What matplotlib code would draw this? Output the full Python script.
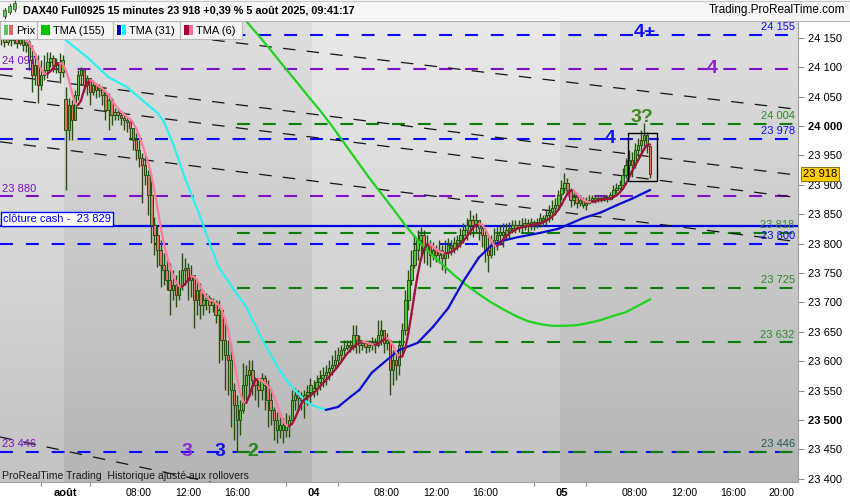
import numpy as np
import pandas as pd
import matplotlib
matplotlib.use("Agg")
import matplotlib.pyplot as plt
from matplotlib.collections import LineCollection
from matplotlib.patches import Rectangle
import matplotlib.transforms as mtransforms

plt.rcParams['font.family'] = ['Liberation Sans', 'DejaVu Sans']

# ---------------- data (15-minute bars, index 0 = 31 Jul ~16:45) ----------------
closes = [24150, 24142, 24155, 24146, 24152, 24141, 24150, 24138, 24143, 24112,
          24086, 24103, 24069, 24086, 24095, 24109, 24115, 24103, 24109, 24092,
          24112, 23993, 24035, 24010, 24052, 24086, 24095, 24069, 24081, 24058,
          24069, 24061, 24064, 24052, 24027, 24044, 24018, 24024, 24018, 24013,
          24010, 24007, 23996, 23976, 23959, 23945, 23933, 23916, 23882, 23831,
          23814, 23789, 23763, 23755, 23738, 23721, 23729, 23712, 23729, 23755,
          23758, 23738, 23746, 23704, 23721, 23695, 23704, 23707, 23695, 23700,
          23678, 23687, 23636, 23610, 23602, 23551, 23525, 23500, 23517, 23559,
          23576, 23585, 23568, 23559, 23551, 23571, 23559, 23534, 23517, 23500,
          23483, 23491, 23483, 23491, 23500, 23534, 23542, 23537, 23534, 23542,
          23547, 23559, 23554, 23565, 23571, 23576, 23581, 23588, 23593, 23602,
          23610, 23619, 23622, 23627, 23624, 23644, 23636, 23627, 23631, 23624,
          23627, 23632, 23627, 23644, 23653, 23631, 23636, 23585, 23602, 23593,
          23627, 23653, 23704, 23738, 23763, 23789, 23806, 23814, 23789, 23797,
          23780, 23789, 23780, 23789, 23775, 23785, 23797, 23792, 23801, 23806,
          23814, 23823, 23831, 23840, 23831, 23840, 23826, 23814, 23789, 23780,
          23797, 23806, 23814, 23819, 23814, 23823, 23826, 23831, 23826, 23831,
          23828, 23835, 23831, 23836, 23831, 23836, 23843, 23840, 23848, 23853,
          23860, 23865, 23882, 23894, 23903, 23891, 23874, 23879, 23869, 23874,
          23865, 23869, 23874, 23877, 23874, 23877, 23874, 23879, 23876, 23882,
          23891, 23894, 23899, 23916, 23933, 23942, 23933, 23959, 23967, 23976,
          23984, 23965, 23918]
highs = [24172, 24160, 24166, 24162, 24168, 24158, 24165, 24155, 24156, 24146,
         24137, 24124, 24120, 24112, 24120, 24126, 24126, 24120, 24115, 24124,
         24120, 24066, 24047, 24044, 24061, 24095, 24100, 24092, 24086, 24081,
         24078, 24073, 24071, 24068, 24058, 24056, 24047, 24030, 24030, 24027,
         24024, 24015, 24013, 23993, 23988, 23976, 23954, 23950, 23925, 23908,
         23845, 23831, 23806, 23784, 23775, 23767, 23755, 23746, 23755, 23784,
         23775, 23767, 23763, 23743, 23738, 23733, 23721, 23716, 23712, 23707,
         23704, 23704, 23682, 23672, 23636, 23627, 23563, 23542, 23534, 23597,
         23593, 23602, 23602, 23573, 23568, 23580, 23576, 23568, 23551, 23522,
         23513, 23512, 23503, 23512, 23508, 23551, 23554, 23551, 23547, 23551,
         23559, 23571, 23568, 23576, 23585, 23590, 23593, 23602, 23610, 23619,
         23624, 23627, 23636, 23636, 23636, 23661, 23661, 23644, 23636, 23636,
         23636, 23641, 23639, 23670, 23670, 23653, 23648, 23636, 23619, 23615,
         23636, 23665, 23721, 23755, 23789, 23814, 23823, 23828, 23823, 23814,
         23806, 23802, 23797, 23806, 23797, 23806, 23809, 23806, 23811, 23814,
         23826, 23835, 23843, 23857, 23848, 23852, 23840, 23831, 23823, 23814,
         23814, 23826, 23828, 23831, 23835, 23835, 23836, 23840, 23840, 23840,
         23843, 23843, 23842, 23843, 23840, 23843, 23852, 23848, 23857, 23865,
         23874, 23877, 23891, 23908, 23920, 23911, 23894, 23887, 23882, 23882,
         23879, 23879, 23882, 23882, 23881, 23882, 23881, 23882, 23882, 23887,
         23899, 23903, 23908, 23928, 23945, 23959, 23955, 23971, 23979, 23993,
         24005, 23990, 23965]
lows = [24138, 24135, 24137, 24136, 24140, 24132, 24138, 24128, 24125, 24095,
        24058, 24069, 24039, 24061, 24078, 24081, 24100, 24092, 24090, 24073,
        24083, 23891, 23976, 23976, 24010, 24044, 24069, 24058, 24052, 24035,
        24052, 24047, 24049, 24035, 24010, 23993, 24001, 24010, 24010, 24001,
        23993, 23990, 23976, 23959, 23942, 23930, 23869, 23899, 23848, 23801,
        23780, 23760, 23726, 23729, 23721, 23678, 23704, 23692, 23704, 23721,
        23729, 23704, 23709, 23656, 23678, 23672, 23678, 23687, 23682, 23683,
        23665, 23597, 23602, 23551, 23542, 23488, 23466, 23446, 23474, 23512,
        23534, 23539, 23542, 23534, 23522, 23534, 23517, 23488, 23491, 23466,
        23461, 23469, 23461, 23471, 23471, 23500, 23517, 23517, 23517, 23503,
        23525, 23529, 23539, 23542, 23551, 23556, 23559, 23568, 23576, 23585,
        23593, 23602, 23610, 23619, 23615, 23619, 23614, 23614, 23619, 23614,
        23615, 23619, 23614, 23624, 23627, 23614, 23619, 23542, 23559, 23568,
        23576, 23614, 23644, 23687, 23729, 23758, 23772, 23780, 23767, 23763,
        23760, 23772, 23768, 23767, 23755, 23750, 23775, 23780, 23784, 23789,
        23794, 23801, 23806, 23814, 23811, 23819, 23806, 23794, 23768, 23751,
        23775, 23780, 23789, 23797, 23794, 23806, 23809, 23818, 23818, 23819,
        23818, 23823, 23819, 23823, 23823, 23826, 23828, 23830, 23831, 23836,
        23840, 23848, 23857, 23874, 23886, 23882, 23862, 23865, 23860, 23864,
        23860, 23857, 23867, 23870, 23869, 23870, 23870, 23872, 23870, 23874,
        23882, 23886, 23891, 23894, 23911, 23916, 23913, 23928, 23942, 23950,
        23959, 23954, 23912]
session_open_bars = [21, 102, 183]
session_open_prices = [24045, 23550, 23885]

tma31_bars = [21, 28, 35, 41, 46, 51, 53, 56, 60, 65, 68, 71, 75, 80, 85, 90, 93, 95, 98, 100,
              102, 106, 110, 114, 117, 121, 126, 130, 136, 141, 146, 151, 156, 160, 164, 169,
              176, 182, 190, 196, 201, 206, 212]
tma31_vals = [24146, 24117, 24083, 24066, 24044, 24022, 24008, 23971, 23911, 23845,
              23801, 23760, 23729, 23692, 23639, 23592, 23568, 23556, 23539, 23530,
              23524, 23517, 23522, 23539, 23551, 23580, 23602, 23619, 23631, 23658,
              23690, 23736, 23776, 23796, 23805, 23811, 23818, 23825, 23843, 23853,
              23865, 23876, 23891]
tma155_bars = [78, 80, 84, 88, 92, 96, 100, 104, 108, 112, 116, 120, 124, 128, 132, 136,
               140, 144, 148, 152, 156, 160, 164, 168, 172, 176, 180, 184, 188, 192, 196,
               200, 204, 208, 212]
tma155_vals = [24190, 24178, 24154, 24129, 24103, 24078, 24052, 24027, 24000, 23971,
               23942, 23913, 23886, 23859, 23831, 23806, 23784, 23765, 23746, 23729,
               23714, 23700, 23688, 23677, 23668, 23663, 23660, 23660, 23661, 23665,
               23670, 23677, 23683, 23694, 23705]

blue_levels = [24155, 23978, 23800, 23446]
purple_levels = [24097, 23880]
green_levels = [24004, 23818, 23725, 23632, 23446]
green_start_bar = 77
cash_close = 23829

trend_x = [-0.46, 260.33]
trend_lines = [[24189, 24028], [24087, 23916], [24047, 23878], [23973, 23803]]
trend_e_x = [-0.46, 68.5]
trend_e = [23471, 23394]

tick_bars = [21, 45, 61, 77, 102, 126, 142, 158, 183, 207, 223, 239, 255]
tick_labels = ['août', '08:00', '12:00', '16:00', '04', '08:00', '12:00', '16:00',
               '05', '08:00', '12:00', '16:00', '20:00']
minor_bars = [13, 29, 93, 110, 174, 191]
day_bounds = [20.5, 101.5, 182.5]

# ---------------- colours ----------------
BLUE = '#0a0aff'
PURPLE = '#7f0fc8'
GREEN = '#0a800a'
OUT = '#27500f'

W, H = 850, 500
fig = plt.figure(figsize=(W / 100, H / 100), dpi=100)
fig.patch.set_facecolor('white')

def fx(x):
    return x / W

def fy(y):
    return 1 - y / H

ax = fig.add_axes([0, fy(482), fx(798), (482 - 21) / H])
X0, X1 = -0.46, 260.33
Y0, Y1 = 23394.4, 24178.4

# background gradient with alternating day bands
ncol, nrow = 798, 220
xs = X0 + (np.arange(ncol) + 0.5) * (X1 - X0) / ncol
dark = ((xs >= day_bounds[0]) & (xs < day_bounds[1])) | (xs >= day_bounds[2])
t = np.linspace(0, 1, nrow)[:, None]
light_col = 0.915 - 0.15 * t
dark_col = 0.875 - 0.165 * t
img = np.where(dark[None, :], dark_col, light_col)
ax.imshow(np.dstack([img] * 3), extent=[X0, X1, Y0, Y1], origin='upper',
          aspect='auto', zorder=0, interpolation='nearest')

# horizontal levels
for p in blue_levels:
    ax.plot([X0, X1], [p, p], color=BLUE, lw=1.5, dashes=(6.2, 6.2), zorder=1.5)
for p in purple_levels:
    ax.plot([X0, X1], [p, p], color=PURPLE, lw=1.5, dashes=(6.2, 6.2), zorder=1.5)
for p in green_levels:
    ax.plot([green_start_bar, X1], [p, p], color=GREEN, lw=1.5, dashes=(6.2, 6.2), zorder=1.6)
ax.plot([X0, X1], [cash_close, cash_close], color='#0000e6', lw=1.6, zorder=1.7)

# trend lines
for tl in trend_lines:
    ax.plot(trend_x, tl, color='#141414', lw=0.9, dashes=(10, 9), zorder=1.8)
ax.plot(trend_e_x, trend_e, color='#141414', lw=0.9, dashes=(10, 9), zorder=1.8)

# candles
c = np.array(closes, float)
h = np.array(highs, float)
lw_ = np.array(lows, float)
o = np.r_[c[0], c[:-1]]
for b, p in zip(session_open_bars, session_open_prices):
    o[b] = p
hi = np.maximum(h, np.maximum(o, c))
lo = np.minimum(lw_, np.minimum(o, c))
xb = np.arange(len(c))
up = c >= o
ax.vlines(xb, lo, hi, color=OUT, lw=1.0, zorder=3)
bh = np.maximum(np.abs(c - o), 1.5)
ax.bar(xb, bh, bottom=np.minimum(o, c), width=0.8,
       color=np.where(up, '#50c83c', '#e3736a'), edgecolor=OUT, linewidth=0.7, zorder=3.1)


def slope_line(x, y, up_col, dn_col, lw, z):
    x = np.asarray(x, float)
    y = np.asarray(y, float)
    pts = np.column_stack([x, y])
    segs = np.stack([pts[:-1], pts[1:]], axis=1)
    cols = [up_col if y[i + 1] >= y[i] else dn_col for i in range(len(y) - 1)]
    ax.add_collection(LineCollection(segs, colors=cols, linewidths=lw, zorder=z,
                                     capstyle='round', joinstyle='round'))

# TMA(6) computed from closes
tma6 = pd.Series(c).rolling(3).mean().rolling(4).mean().to_numpy()
start = 8
slope_line(xb[start:], tma6[start:], '#a0103c', '#ff7a9c', 1.6, 4.2)
# TMA(31), TMA(155)
slope_line(tma31_bars, tma31_vals, '#0a0ad2', '#2ef0f0', 1.6, 4.1)
ax.plot(tma155_bars, tma155_vals, color='#1ed21e', lw=1.6, zorder=4.0)

# box around last bars
ax.add_patch(Rectangle((204.8, 23906), 9.4, 82, fill=False, ec='black', lw=1.0, zorder=5))

# level labels
trans = mtransforms.blended_transform_factory(ax.transAxes, ax.transData)
up_off = mtransforms.ScaledTranslation(0, 7.5 / 100, fig.dpi_scale_trans)
right_labels = [(24155, '24 155', BLUE), (24004, '24 004', '#2a8a2a'), (23978, '23 978', BLUE),
                (23818, '23 818', '#3a8a3a'), (23800, '23 800', BLUE), (23725, '23 725', '#2a8a2a'),
                (23632, '23 632', '#2a8a2a'), (23446, '23 446', '#1d5a5a')]
for p, s, col in right_labels:
    ax.text(0.996, p, s, transform=trans + up_off, ha='right', va='center',
            fontsize=8, color=col, zorder=6)
left_labels = [(24097, '24 097', PURPLE), (23880, '23 880', PURPLE), (23446, '23 446', PURPLE)]
for p, s, col in left_labels:
    ax.text(0.003, p, s, transform=trans + up_off, ha='left', va='center',
            fontsize=8, color=col, zorder=5.5)
ax.text(0.004, cash_close, 'clôture cash -  23 829', transform=trans + up_off,
        ha='left', va='center', fontsize=8, color='#0000ff', zorder=6,
        bbox=dict(boxstyle='square,pad=0.18', fc='white', ec='#0000ff', lw=1.0))

# big wave labels
big = [(210.3, 24158, '4+', '#1010ff'), (232.2, 24097, '4', '#8a1ecc'),
       (209.4, 24015, '3?', '#3a8a1a'), (198.9, 23978, '4', '#1010ff'),
       (60.6, 23446, '3', '#8a2ad0'), (71.4, 23446, '3', '#1010ff'),
       (82.2, 23446, '2', '#1f8a1f')]
for bx, by, s, col in big:
    ax.text(bx, by, s, ha='center', va='center', fontsize=14, fontweight='bold',
            color=col, zorder=6)

# axes formatting
ax.set_xlim(X0, X1)
ax.set_ylim(Y0, Y1)
yt = list(range(23400, 24151, 50))
ax.set_yticks(yt)
ax.set_yticklabels([f"{v:,}".replace(',', ' ') for v in yt])
ax.yaxis.tick_right()
ax.tick_params(axis='y', which='major', length=4, width=0.8, color='#909090',
               pad=3, labelsize=8, labelcolor='black')
for lab in ax.get_yticklabels():
    if lab.get_text() in ('24 000', '23 500'):
        lab.set_fontweight('bold')
ax.set_xticks(tick_bars)
ax.set_xticklabels(tick_labels)
ax.set_xticks(minor_bars, minor=True)
ax.tick_params(axis='x', which='major', length=0, pad=4, labelsize=7.5)
ax.tick_params(axis='x', which='minor', length=3, width=0.8, color='#909090')
for lab in ax.get_xticklabels():
    if lab.get_text() in ('août', '04', '05'):
        lab.set_fontweight('bold')
        lab.set_fontsize(8)
for s in ('left', 'top'):
    ax.spines[s].set_visible(False)
for s in ('right', 'bottom'):
    ax.spines[s].set_color('#a0a0a0')
    ax.spines[s].set_linewidth(0.8)

# header bar
fig.add_artist(Rectangle((0, fy(20)), 1, 20 / H, transform=fig.transFigure,
                         fc='#f6f6f6', ec='none', zorder=9))
fig.add_artist(plt.Line2D([0, 1], [fy(20.5), fy(20.5)], transform=fig.transFigure,
                          color='#b0b0b0', lw=0.8, zorder=9.5))
fig.add_artist(plt.Line2D([0, 1], [fy(0.5), fy(0.5)], transform=fig.transFigure,
                          color='#c8c8c8', lw=0.8, zorder=9.5))
# small candle icon
for (x, yt0, yb0, col) in [(4.5, 10, 16, '#5cc85c'), (9.5, 6, 12, '#5cc85c'), (14.5, 3, 9, '#5cc85c')]:
    fig.add_artist(plt.Line2D([fx(x), fx(x)], [fy(yt0 - 2), fy(yb0 + 2)], transform=fig.transFigure,
                              color='#2b5316', lw=0.8, zorder=10))
    fig.add_artist(Rectangle((fx(x - 1.5), fy(yb0)), 3 / W, (yb0 - yt0) / H, transform=fig.transFigure,
                             fc=col, ec='#2b5316', lw=0.5, zorder=10.5))
fig.text(fx(23), fy(10.5), 'DAX40 Full0925 15 minutes 23 918 +0,39 % 5 août 2025, 09:41:17',
         fontsize=7.8, fontweight='bold', va='center', ha='left', zorder=11)
fig.text(fx(845), fy(10.5), 'Trading.ProRealTime.com', fontsize=8.5, va='center', ha='right',
         zorder=11)

# legend boxes
legend = [(0, 37, 'Prix', ('#5cc85c', '#e06666')), (37, 113, 'TMA (155)', ('#00c000', '#00c000')),
          (113, 180, 'TMA (31)', ('#0000c8', '#00ffff')), (180, 242, 'TMA (6)', ('#a0003c', '#ff6f99'))]
for x0, x1, s, (c1, c2) in legend:
    fig.add_artist(Rectangle((fx(x0), fy(39)), (x1 - x0) / W, 18 / H, transform=fig.transFigure,
                             fc='#f4f4f4', ec='#b8b8b8', lw=0.8, zorder=10))
    fig.add_artist(Rectangle((fx(x0 + 4), fy(35)), 4.5 / W, 10 / H, transform=fig.transFigure,
                             fc=c1, ec='none', zorder=10.5))
    fig.add_artist(Rectangle((fx(x0 + 8.5), fy(35)), 4.5 / W, 10 / H, transform=fig.transFigure,
                             fc=c2, ec='none', zorder=10.5))
    fig.text(fx(x0 + 16), fy(30.5), s, fontsize=8, va='center', ha='left', zorder=11)

# bottom-left note
fig.text(fx(2), fy(476), 'ProRealTime Trading  Historique ajusté aux rollovers', fontsize=7.6,
         color='#1a1a1a', va='center', ha='left', zorder=11)

# last price tag
fig.text(fx(803), fy(174), '23 918', fontsize=8, va='center', ha='left', zorder=12,
         bbox=dict(boxstyle='square,pad=0.15', fc='#ffcc00', ec='#7a6000', lw=0.6))

fig.savefig('out.png', dpi=100)
